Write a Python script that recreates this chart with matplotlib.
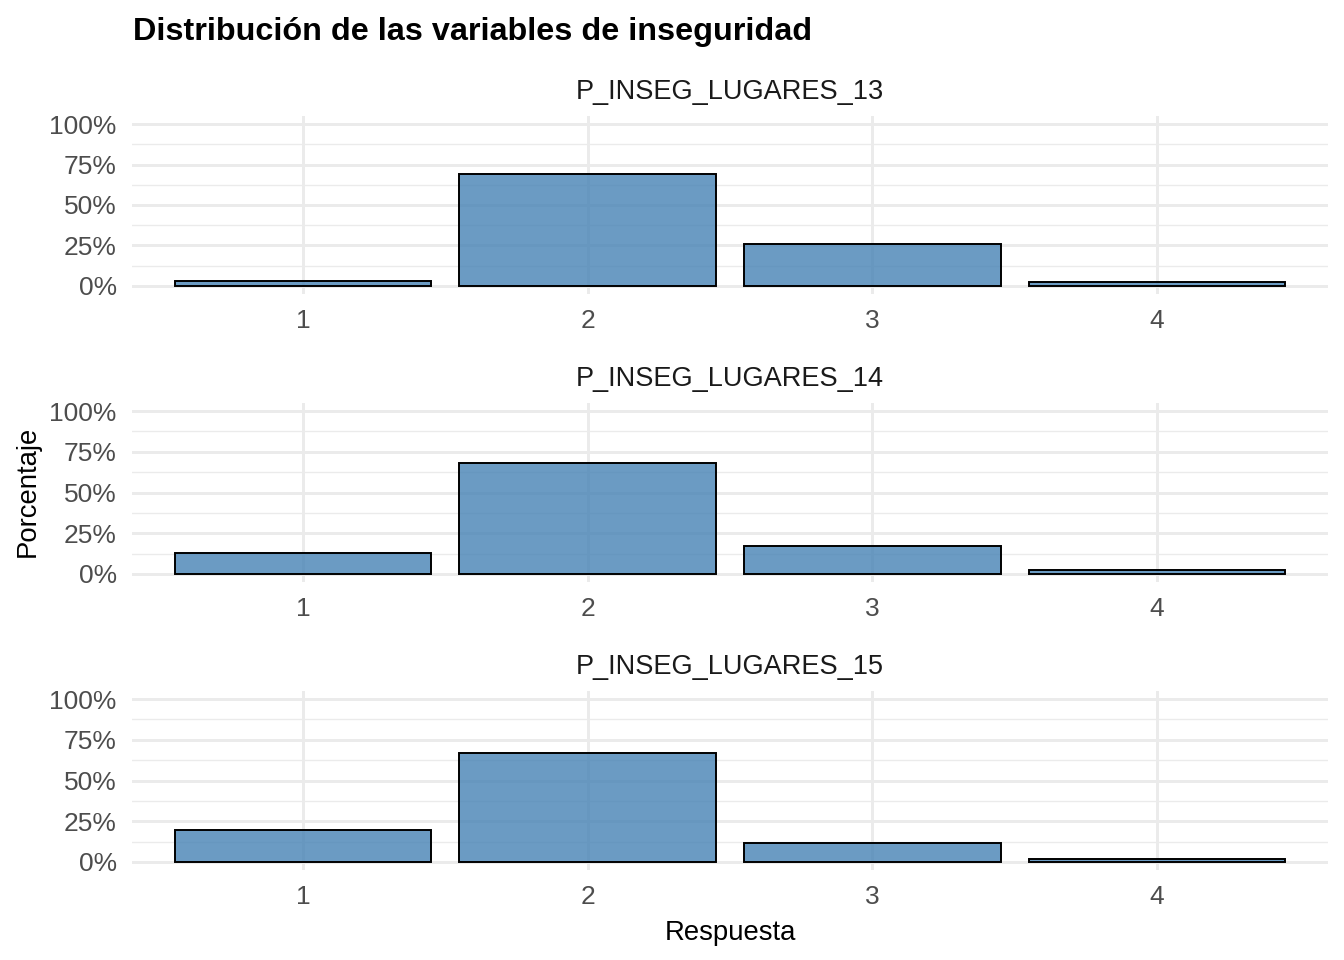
import numpy as np
import matplotlib.pyplot as plt
from matplotlib.ticker import PercentFormatter

plt.rcParams['font.family'] = ['Liberation Sans', 'DejaVu Sans']

# datos (porcentaje por respuesta)
variables = ['P_INSEG_LUGARES_13', 'P_INSEG_LUGARES_14', 'P_INSEG_LUGARES_15']
respuestas = [1, 2, 3, 4]
pct_13 = [2.8, 69.0, 26.0, 2.4]
pct_14 = [12.8, 68.0, 17.2, 2.4]
pct_15 = [19.8, 66.8, 11.5, 2.0]
valores = [pct_13, pct_14, pct_15]

fig = plt.figure(figsize=(13.44, 9.6), dpi=100)

left, width = 132 / 1344, 1196 / 1344
# (parte superior, parte inferior) de cada panel en píxeles
paneles = [(116, 294), (403, 582), (691, 870)]

grid_col = '#EBEBEB'
tick_col = '#4D4D4D'

for (top, bottom), var, vals in zip(paneles, variables, valores):
    ax = fig.add_axes([left, (960 - bottom) / 960, width, (bottom - top) / 960])
    ax.set_axisbelow(True)
    ax.bar(respuestas, vals, width=0.9, color='steelblue', alpha=0.8,
           edgecolor='none', zorder=2)
    ax.bar(respuestas, vals, width=0.9, facecolor='none',
           edgecolor='black', linewidth=1.4, zorder=3)
    ax.set_xlim(0.4, 4.6)
    ax.set_ylim(-5, 105)
    ax.set_yticks([0, 25, 50, 75, 100])
    ax.set_yticks([12.5, 37.5, 62.5, 87.5], minor=True)
    ax.yaxis.set_major_formatter(PercentFormatter(decimals=0))
    ax.set_xticks(respuestas)
    ax.set_xticklabels([str(r) for r in respuestas])
    ax.grid(axis='y', which='major', color=grid_col, linewidth=2.1)
    ax.grid(axis='y', which='minor', color=grid_col, linewidth=1.0)
    ax.grid(axis='x', which='major', color=grid_col, linewidth=2.1)
    for s in ax.spines.values():
        s.set_visible(False)
    ax.tick_params(axis='both', which='both', length=0, labelsize=19,
                   labelcolor=tick_col)
    ax.tick_params(axis='y', pad=11)
    ax.tick_params(axis='x', pad=11)
    ax.set_title(var, fontsize=19.5, color='#1A1A1A', pad=12)

fig.text(133 / 1344, 1 - 32 / 960, 'Distribución de las variables de inseguridad',
         fontsize=23.3, fontweight='bold', ha='left', va='center')
fig.text(28 / 1344, 1 - 491 / 960, 'Porcentaje', fontsize=19.8, rotation=90,
         ha='center', va='center')
fig.text(730 / 1344, 1 - 933 / 960, 'Respuesta', fontsize=19.8,
         ha='center', va='center')

plt.savefig('out.png', dpi=100, facecolor='white')
